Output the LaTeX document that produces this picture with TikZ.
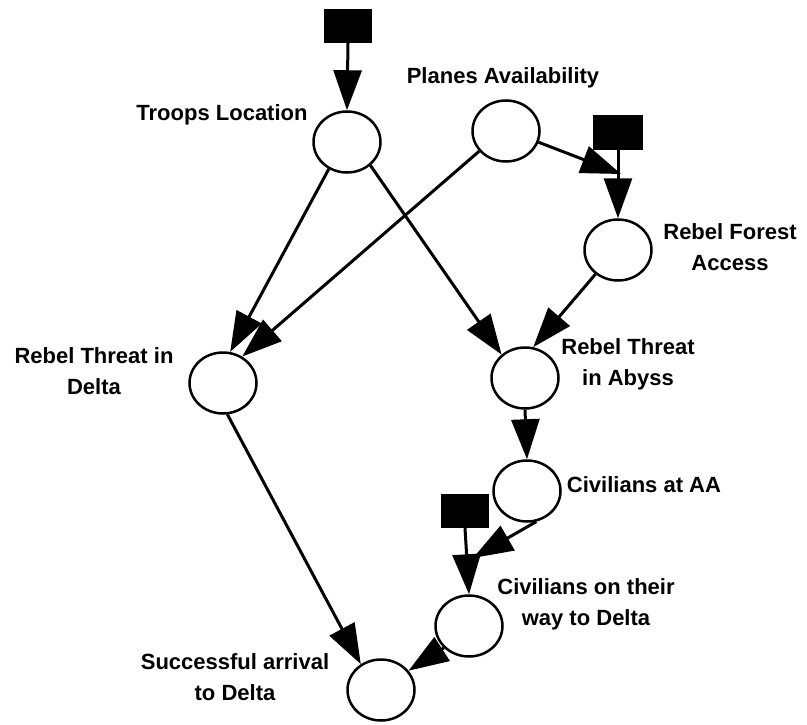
\documentclass[tikz,border=0pt]{standalone}
\usepackage{fontspec}
\setmainfont{Liberation Sans}
\usetikzlibrary{arrows.meta,shapes.geometric}
\begin{document}
\begin{tikzpicture}[x=1pt,y=-1pt,
  chance/.style={draw, ellipse, line width=2.5pt, minimum width=67pt,
    minimum height=61pt, inner sep=0pt},
  decision/.style={fill=black, draw=none, minimum width=48pt,
    minimum height=34pt, inner sep=0pt},
  nodetext/.style={font=\bfseries\fontsize{22}{31}\selectfont,
    align=center, inner sep=0pt},
  link/.style={line width=3pt, -{Triangle[length=40pt,width=28pt]}}]
\useasboundingbox (0,0) rectangle (807,725);

% chance nodes
\node[chance] (TL)  at (347,142) {};
\node[chance] (PA)  at (506,131) {};
\node[chance] (RFA) at (618,250) {};
\node[chance] (RTD) at (223,383) {};
\node[chance] (RTA) at (525,378) {};
\node[chance] (CAA) at (527,491) {};
\node[chance] (CWD) at (469,626) {};
\node[chance] (SAD) at (381,690) {};

% decision boxes
\node[decision] (B1) at (348,26) {};
\node[decision, minimum width=50pt, minimum height=35pt] (B2) at (618,132.5) {};
\node[decision] (B3) at (465,511) {};

% free ends of the two links that stop on a decision line
\coordinate (P1) at (621,174);
\coordinate (P2) at (473,558);

% labels
\node[nodetext, anchor=base]  (tTL)  at (222,121) {Troops Location};
\node[nodetext, anchor=base]  (tPA)  at (503,84)  {Planes Availability};
\node[nodetext, anchor=north] (tRFA) at (730,223) {Rebel Forest\\Access};
\node[nodetext, anchor=north] (tRTD) at (94,347)  {Rebel Threat in\\Delta};
\node[nodetext, anchor=north] (tRTA) at (628,338) {Rebel Threat\\in Abyss};
\node[nodetext, anchor=base]  (tCAA) at (644,492) {Civilians at AA};
\node[nodetext, anchor=north] (tCWD) at (586,578) {Civilians on their\\way to Delta};
\node[nodetext, anchor=north] (tSAD) at (235,653) {Successful arrival\\to Delta};

% links
\draw[link] (B1.south) -- (TL.north);
\draw[link] (TL.236) -- (RTD.77);
\draw[link] (TL.315) -- (RTA.135);
\draw[link] (PA.217) -- (RTD.54);
\draw[link] (PA.341) -- (P1);
\draw[link] (B2.south) -- (RFA.north);
\draw[link] (RFA.227) -- (RTA.75);
\draw[link] (RTA.south) -- (CAA.north);
\draw[link] (CAA.287) -- (P2);
\draw[link] (B3.south) -- (CWD.north);
\draw[link] (RTD.278) -- (SAD.128);
\draw[link] (CWD.221) -- (SAD.35);
\end{tikzpicture}
\end{document}
